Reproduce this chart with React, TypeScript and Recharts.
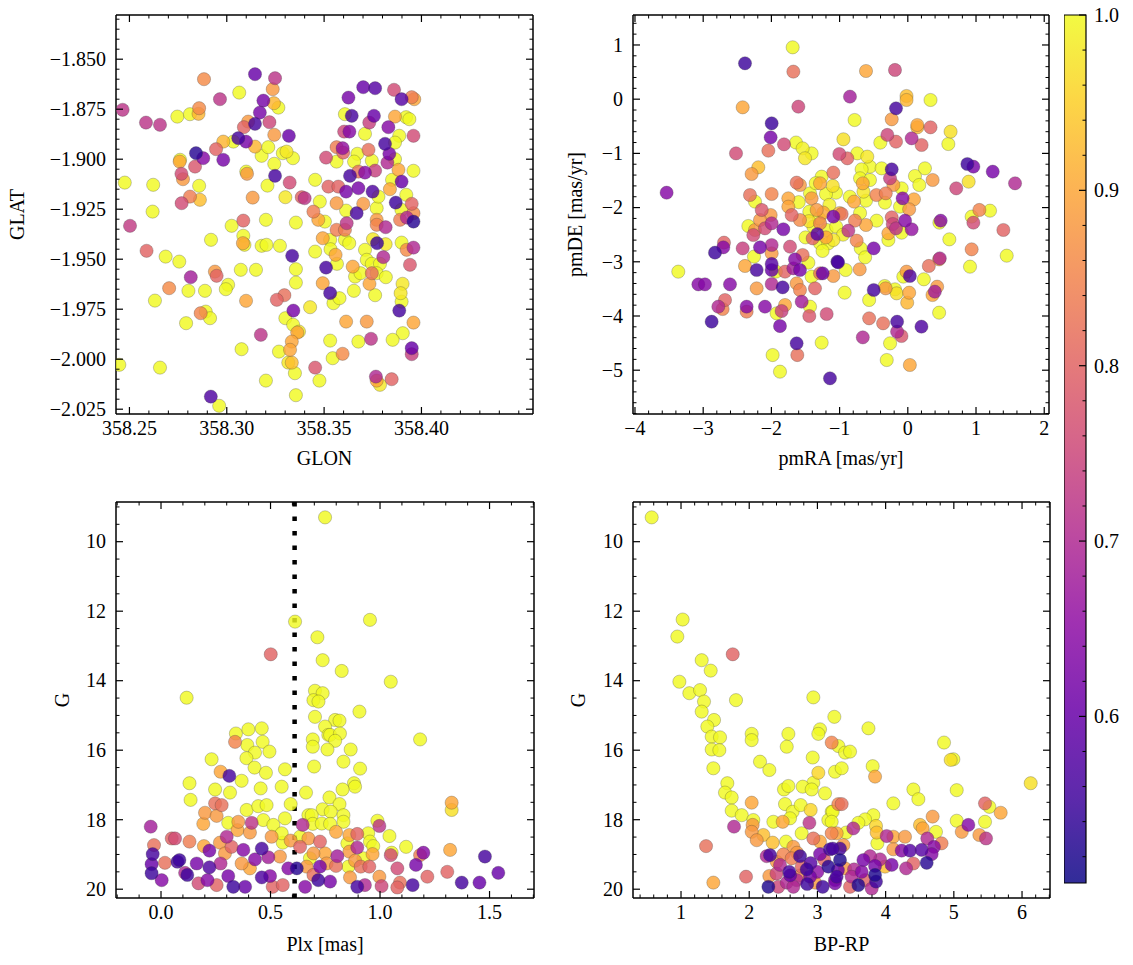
import React from 'react';
import { ReferenceArea, ReferenceLine, Scatter, ScatterChart, XAxis, YAxis } from 'recharts';

// [GLON, GLAT, membership probability]
const skyPositions: [number, number, number][] = [
  [358.2465, -1.8753, 0.72], [358.2585, -1.8817, 0.72], [358.2657, -1.8828, 0.72], [358.2746, -1.8787, 1.0],
  [358.2811, -1.8775, 1.0], [358.2855, -1.8773, 0.92], [358.2858, -1.8745, 0.86], [358.2883, -1.86, 0.86],
  [358.2965, -1.87, 0.72], [358.3064, -1.8667, 1.0], [358.3145, -1.8575, 0.6], [358.3248, -1.8595, 0.72],
  [358.3236, -1.865, 0.88], [358.3188, -1.8707, 0.62], [358.3242, -1.872, 0.92], [358.3265, -1.8742, 1.0],
  [358.317, -1.8767, 0.62], [358.3219, -1.8815, 0.75], [358.3145, -1.8823, 0.56], [358.311, -1.8812, 0.88],
  [358.3088, -1.884, 0.8], [358.3244, -1.8878, 0.88], [358.3319, -1.8883, 0.6], [358.3059, -1.8895, 0.56],
  [358.3099, -1.8912, 0.62], [358.3034, -1.8912, 1.0], [358.2982, -1.8912, 0.92], [358.2945, -1.895, 0.8],
  [358.2982, -1.9003, 0.62], [358.2842, -1.897, 0.53], [358.2879, -1.8995, 0.64], [358.276, -1.9003, 1.0],
  [358.2758, -1.9012, 0.9], [358.2837, -1.9037, 0.78], [358.2767, -1.9073, 0.76], [358.2775, -1.91, 0.88],
  [358.2858, -1.9133, 1.0], [358.2811, -1.9187, 0.84], [358.2768, -1.922, 0.76], [358.2862, -1.9203, 0.93],
  [358.3145, -1.8937, 0.92], [358.3179, -1.8983, 1.0], [358.3213, -1.894, 1.0], [358.3244, -1.9023, 1.0],
  [358.3248, -1.9083, 0.56], [358.31, -1.9062, 1.0], [358.3104, -1.9073, 0.88], [358.3209, -1.9132, 1.0],
  [358.3288, -1.897, 1.0], [358.3307, -1.8962, 0.98], [358.334, -1.8995, 1.0], [358.3323, -1.9117, 0.76],
  [358.3301, -1.919, 0.98], [358.3133, -1.9192, 0.88], [358.3385, -1.919, 0.8], [358.34, -1.9195, 0.72],
  [358.3445, -1.9262, 0.84], [358.3454, -1.9103, 1.0], [358.2476, -1.9117, 1.0], [358.2622, -1.9128, 1.0],
  [358.2619, -1.9262, 1.0], [358.2503, -1.9333, 0.73], [358.3085, -1.9307, 0.8], [358.3025, -1.9333, 1.0],
  [358.3201, -1.9303, 1.0], [358.3355, -1.9317, 1.0], [358.2919, -1.9403, 1.0], [358.3085, -1.9383, 1.0],
  [358.3083, -1.942, 0.9], [358.3091, -1.9428, 0.99], [358.3179, -1.9433, 1.0], [358.3204, -1.9428, 1.0],
  [358.3273, -1.9433, 1.0], [358.3454, -1.9462, 1.0], [358.3336, -1.9483, 0.56], [358.2588, -1.9458, 0.8],
  [358.2686, -1.9487, 1.0], [358.2756, -1.9512, 1.0], [358.2939, -1.9562, 0.88], [358.2948, -1.9583, 0.8],
  [358.2815, -1.959, 0.68], [358.3072, -1.9553, 1.0], [358.315, -1.9553, 1.0], [358.3355, -1.955, 1.0],
  [358.3355, -1.9617, 1.0], [358.3007, -1.9628, 1.0], [358.2995, -1.965, 1.0], [358.2888, -1.9658, 1.0],
  [358.2803, -1.9658, 1.0], [358.2704, -1.9645, 0.86], [358.2631, -1.9707, 1.0], [358.3099, -1.9708, 0.9],
  [358.3257, -1.9703, 0.8], [358.3296, -1.968, 0.82], [358.3342, -1.9757, 0.62], [358.3428, -1.974, 0.98],
  [358.2892, -1.9762, 1.0], [358.2866, -1.977, 0.85], [358.2914, -1.9795, 1.0], [358.2791, -1.982, 1.0],
  [358.3301, -1.9795, 1.0], [358.3341, -1.9828, 1.0], [358.3371, -1.9862, 0.98], [358.3362, -1.9867, 0.9],
  [358.3334, -1.9912, 0.9], [358.3325, -1.9953, 0.9], [358.3175, -1.9878, 0.72], [358.3076, -1.995, 1.0],
  [358.3268, -1.9962, 1.0], [358.3316, -2.0017, 0.98], [358.3334, -2.0017, 0.93], [358.335, -2.007, 1.0],
  [358.3201, -2.0107, 1.0], [358.3454, -2.0042, 0.78], [358.3476, -2.0107, 1.0], [358.2448, -2.0028, 1.0],
  [358.2657, -2.0042, 1.0], [358.3355, -2.018, 1.0], [358.2918, -2.0187, 0.57], [358.2961, -2.0233, 1.0],
  [358.3701, -1.864, 0.6], [358.3762, -1.8645, 0.58], [358.3625, -1.8692, 0.62], [358.3859, -1.8653, 0.76],
  [358.3898, -1.87, 0.58], [358.395, -1.869, 0.84], [358.3963, -1.87, 0.9], [358.3607, -1.8775, 1.0],
  [358.3642, -1.8783, 0.56], [358.3756, -1.8783, 0.6], [358.3732, -1.8817, 0.74], [358.3864, -1.8787, 0.9],
  [358.3921, -1.879, 1.0], [358.3938, -1.88, 1.0], [358.383, -1.884, 0.64], [358.3886, -1.8883, 1.0],
  [358.3959, -1.8883, 0.76], [358.3603, -1.8862, 0.75], [358.363, -1.8862, 0.64], [358.371, -1.8873, 1.0],
  [358.3864, -1.8917, 1.0], [358.3813, -1.8923, 0.56], [358.3564, -1.894, 0.84], [358.3595, -1.8945, 0.66],
  [358.3598, -1.8967, 0.8], [358.3728, -1.8953, 0.82], [358.3835, -1.8973, 0.62], [358.3864, -1.9, 1.0],
  [358.3825, -1.9017, 0.7], [358.3671, -1.8973, 1.0], [358.3654, -1.9012, 1.0], [358.3745, -1.9007, 1.0],
  [358.3564, -1.9012, 1.0], [358.351, -1.8992, 0.76], [358.3882, -1.9053, 0.9], [358.3959, -1.9058, 1.0],
  [358.3898, -1.9112, 0.6], [358.3849, -1.9103, 1.0], [358.3838, -1.915, 0.9], [358.3633, -1.9083, 0.56],
  [358.3676, -1.9062, 0.82], [358.371, -1.9067, 0.64], [358.3762, -1.9057, 0.74], [358.3613, -1.9162, 0.62],
  [358.3676, -1.9145, 0.62], [358.3749, -1.9162, 0.57], [358.3522, -1.9137, 0.8], [358.3573, -1.9137, 0.8],
  [358.3478, -1.9212, 1.0], [358.3564, -1.922, 0.88], [358.3613, -1.9257, 1.0], [358.3667, -1.927, 0.56],
  [358.3701, -1.9223, 0.88], [358.377, -1.9245, 1.0], [358.3779, -1.9187, 1.0], [358.3868, -1.9217, 0.55],
  [358.3922, -1.9178, 1.0], [358.3897, -1.9253, 1.0], [358.389, -1.9303, 0.84], [358.395, -1.9223, 0.8],
  [358.3959, -1.927, 0.86], [358.3925, -1.9292, 0.7], [358.3959, -1.9312, 0.53], [358.347, -1.9303, 0.9],
  [358.3504, -1.9312, 1.0], [358.3616, -1.932, 0.72], [358.3564, -1.9353, 0.84], [358.3607, -1.9353, 0.84],
  [358.377, -1.9303, 0.88], [358.377, -1.9328, 0.85], [358.3816, -1.934, 0.7], [358.3493, -1.9395, 0.9],
  [358.3531, -1.9403, 1.0], [358.3607, -1.9403, 1.0], [358.3629, -1.942, 1.0], [358.3751, -1.94, 0.98],
  [358.3772, -1.942, 0.55], [358.3816, -1.9425, 0.98], [358.3533, -1.945, 1.0], [358.3559, -1.9478, 0.9],
  [358.3566, -1.9523, 1.0], [358.351, -1.9542, 0.56], [358.371, -1.9453, 1.0], [358.3719, -1.9503, 1.0],
  [358.3745, -1.9523, 1.0], [358.3804, -1.949, 0.7], [358.3787, -1.9523, 1.0], [358.3898, -1.9417, 1.0],
  [358.3924, -1.9453, 0.86], [358.3959, -1.9442, 0.7], [358.3941, -1.9528, 0.78], [358.3647, -1.9537, 0.9],
  [358.3659, -1.9587, 1.0], [358.3687, -1.957, 1.0], [358.3745, -1.957, 0.82], [358.377, -1.957, 1.0],
  [358.3733, -1.9623, 0.9], [358.3817, -1.959, 1.0], [358.3493, -1.962, 0.9], [358.3531, -1.967, 0.56],
  [358.3548, -1.972, 1.0], [358.3579, -1.9695, 1.0], [358.3653, -1.9658, 1.0], [358.3762, -1.968, 1.0],
  [358.3903, -1.9623, 0.98], [358.3893, -1.967, 0.98], [358.3898, -1.9712, 1.0], [358.3886, -1.9757, 0.56],
  [358.3613, -1.9812, 0.9], [358.3719, -1.9812, 0.88], [358.3959, -1.9817, 0.9], [358.3904, -1.987, 1.0],
  [358.3852, -1.9903, 1.0], [358.3741, -1.9898, 0.72], [358.3676, -1.9912, 1.0], [358.3531, -1.9907, 1.0],
  [358.3595, -1.9973, 0.86], [358.3544, -1.9995, 1.0], [358.395, -1.9945, 0.6], [358.395, -1.9975, 0.74],
  [358.3766, -2.0087, 0.7], [358.3787, -2.0128, 0.98], [358.377, -2.0107, 0.9], [358.3847, -2.01, 0.8],
];

// [pmRA, pmDE, membership probability]
const properMotions: [number, number, number][] = [
  [-1.688, 0.957, 1.0], [-2.387, 0.662, 0.55], [-1.678, 0.508, 0.82], [-1.605, -0.138, 0.75],
  [-2.421, -0.15, 0.9], [-1.996, -0.445, 0.55], [-2.011, -0.704, 0.62], [-1.815, -0.833, 0.76],
  [-2.519, -1.0, 0.76], [-2.045, -0.95, 0.82], [-1.639, -0.8, 1.0], [-1.542, -0.907, 0.99],
  [-1.41, -1.0, 1.0], [-1.507, -1.09, 0.98], [-2.192, -1.257, 0.93], [-2.29, -1.38, 0.88],
  [-3.536, -1.725, 0.64], [-2.314, -1.768, 0.82], [-1.996, -1.749, 0.85], [-1.752, -1.829, 0.9],
  [-1.63, -1.54, 0.82], [-1.581, -1.583, 0.88], [-1.263, -1.43, 1.0], [-1.287, -1.552, 0.9],
  [-1.434, -1.737, 1.0], [-1.41, -1.829, 0.88], [-1.092, -1.355, 0.82], [-1.053, -1.725, 1.0],
  [-2.24, -1.89, 1.0], [-2.142, -2.044, 0.78], [-2.011, -2.137, 0.88], [-1.752, -1.983, 0.9],
  [-1.703, -2.137, 0.8], [-1.581, -2.229, 0.86], [-1.444, -2.075, 1.0], [-1.336, -2.044, 0.88],
  [-1.239, -2.093, 0.9], [-1.092, -2.167, 0.62], [-1.287, -2.29, 0.85], [-1.385, -2.352, 1.0],
  [-1.19, -2.413, 1.0], [-1.327, -2.487, 0.58], [-1.395, -2.567, 0.8], [-1.287, -2.66, 1.0],
  [-1.166, -2.66, 1.0], [-1.092, -2.598, 0.98], [-2.338, -2.34, 1.0], [-2.24, -2.413, 0.88],
  [-2.094, -2.383, 0.76], [-1.996, -2.29, 0.7], [-2.167, -2.229, 0.88], [-2.265, -2.506, 0.76],
  [-1.825, -2.4, 0.62], [-2.695, -2.647, 0.8], [-2.705, -2.733, 0.64], [-2.827, -2.831, 0.55],
  [-2.421, -2.752, 0.74], [-2.167, -2.733, 0.62], [-1.996, -2.69, 0.7], [-1.996, -2.844, 0.88],
  [-1.727, -2.721, 0.76], [-1.542, -2.875, 0.82], [-2.255, -2.905, 1.0], [-2.387, -3.077, 0.9],
  [-2.216, -3.151, 0.56], [-1.996, -3.04, 0.58], [-1.996, -3.151, 0.6], [-1.933, -3.182, 1.0],
  [-1.8, -3.182, 0.8], [-1.654, -2.955, 0.64], [-1.678, -3.12, 0.68], [-1.581, -3.151, 0.62],
  [-1.458, -3.016, 1.0], [-1.41, -3.274, 1.0], [-1.287, -3.213, 0.82], [-1.248, -3.213, 0.6],
  [-1.092, -3.262, 0.88], [-1.033, -2.998, 0.56], [-3.365, -3.182, 1.0], [-3.071, -3.416, 0.64],
  [-2.974, -3.416, 0.64], [-2.607, -3.416, 0.64], [-2.216, -3.49, 0.88], [-1.996, -3.41, 0.7],
  [-1.835, -3.471, 0.56], [-1.63, -3.398, 0.88], [-1.581, -3.52, 0.85], [-1.556, -3.736, 0.68],
  [-1.361, -3.49, 0.8], [-2.68, -3.705, 0.8], [-2.778, -3.828, 0.7], [-2.715, -3.871, 0.85],
  [-2.363, -3.828, 0.64], [-2.363, -3.92, 0.84], [-2.094, -3.828, 0.64], [-1.923, -3.951, 1.0],
  [-1.8, -3.797, 0.9], [-1.85, -3.908, 0.74], [-1.434, -3.828, 1.0], [-1.444, -4.0, 0.78],
  [-1.19, -3.963, 0.76], [-2.876, -4.105, 0.55], [-1.874, -4.185, 0.62], [-1.63, -4.504, 0.56],
  [-1.62, -4.72, 0.82], [-1.263, -4.492, 1.0], [-1.982, -4.72, 1.0], [-1.874, -5.027, 1.0],
  [-1.141, -5.15, 0.56],
  [-0.613, 0.52, 0.9], [-0.188, 0.539, 0.75], [-0.848, 0.047, 0.68], [-0.019, 0.059, 0.93],
  [-0.019, -0.015, 0.92], [0.333, -0.015, 1.0], [-0.173, -0.169, 0.56], [-0.236, -0.371, 0.88],
  [-0.78, -0.384, 1.0], [0.139, -0.476, 0.9], [0.139, -0.519, 0.92], [0.333, -0.519, 0.8],
  [0.627, -0.599, 0.97], [0.594, -0.827, 1.0], [-0.944, -0.74, 0.97], [-0.3, -0.66, 0.75],
  [-0.173, -0.784, 0.8], [0.056, -0.722, 0.7], [0.202, -0.845, 0.8], [-0.403, -0.802, 1.0],
  [-1.004, -1.011, 0.76], [-0.887, -1.091, 0.8], [-0.741, -0.999, 1.0], [-0.594, -1.06, 0.98],
  [-0.555, -1.245, 1.0], [-0.677, -1.294, 1.0], [-0.384, -1.276, 1.0], [-0.236, -1.294, 0.56],
  [-0.261, -1.46, 0.74], [-0.212, -1.583, 0.88], [-0.09, -1.645, 1.0], [0.105, -1.417, 1.0],
  [0.251, -1.276, 1.0], [0.168, -1.583, 1.0], [0.364, -1.491, 0.88], [-0.7, -1.46, 1.0],
  [-0.66, -1.552, 0.9], [-0.555, -1.491, 1.0], [-0.65, -1.706, 0.98], [-0.46, -1.768, 0.85],
  [-0.323, -1.737, 0.84], [-0.788, -1.89, 0.9], [-0.613, -1.872, 1.0], [-0.335, -1.909, 1.0],
  [-0.076, -1.829, 0.64], [0.09, -1.847, 0.9], [0.02, -2.032, 0.88], [-0.114, -1.983, 1.0],
  [-0.97, -2.118, 0.82], [-0.775, -2.241, 0.84], [-0.872, -2.426, 0.72], [-0.75, -2.61, 0.85],
  [-0.613, -2.321, 0.9], [-0.457, -2.241, 1.0], [-0.69, -2.752, 1.0], [-0.626, -2.918, 1.0],
  [-0.236, -2.18, 0.8], [-0.221, -2.303, 0.75], [-0.04, -2.241, 0.64], [0.056, -2.4, 0.66],
  [-0.173, -2.383, 0.72], [-0.09, -2.463, 1.0], [-0.285, -2.475, 0.9], [-0.285, -2.598, 1.0],
  [0.482, -2.241, 0.64], [0.463, -2.278, 1.0], [0.609, -2.586, 1.0], [0.936, -2.167, 1.0],
  [1.049, -2.044, 0.85], [1.205, -2.057, 1.0], [0.961, -2.278, 0.76], [1.401, -2.413, 0.8],
  [1.45, -2.887, 1.0], [0.936, -2.77, 0.85], [0.912, -3.09, 1.0], [0.873, -1.196, 0.55],
  [0.961, -1.245, 0.62], [1.245, -1.337, 0.62], [1.572, -1.552, 0.7], [0.71, -1.645, 0.75],
  [0.892, -1.522, 0.97], [-0.5, -2.752, 0.62], [-1.023, -3.01, 0.56], [-0.911, -3.151, 1.0],
  [-0.705, -3.139, 0.88], [-0.926, -3.57, 1.0], [-0.567, -3.705, 1.0], [-0.5, -3.52, 0.56],
  [-0.339, -3.447, 1.0], [-0.325, -3.49, 0.88], [-0.188, -3.508, 1.0], [-0.164, -3.582, 0.97],
  [-0.019, -3.182, 0.88], [-0.066, -3.274, 1.0], [0.03, -3.262, 0.57], [0.02, -3.57, 0.9],
  [-0.009, -3.754, 0.92], [0.235, -3.323, 1.0], [0.308, -3.077, 0.82], [0.459, -2.955, 0.88],
  [0.469, -2.936, 0.7], [0.43, -3.459, 0.88], [0.396, -3.551, 0.68], [0.362, -3.613, 0.9],
  [0.459, -3.939, 1.0], [-0.567, -4.043, 0.82], [-0.362, -4.135, 0.82], [-0.157, -4.105, 0.56],
  [-0.157, -4.289, 0.7], [-0.093, -4.369, 0.78], [0.2, -4.197, 0.57], [-0.66, -4.394, 0.7],
  [-0.26, -4.504, 1.0], [-0.309, -4.812, 1.0], [0.03, -4.904, 0.9],
  [-1.35, -1.55, 1.0], [-1.2, -1.75, 1.0], [-1.15, -1.95, 0.99], [-1.3, -2.2, 1.0],
  [-1.45, -2.25, 0.97], [-1.05, -2.35, 1.0], [-0.95, -2.5, 0.99], [-1.2, -2.55, 0.9],
  [-1.5, -2.55, 1.0], [-1.0, -2.1, 0.92], [-1.6, -1.9, 1.0], [-0.85, -1.8, 1.0],
  [-1.25, -2.8, 1.0], [-1.1, -1.6, 0.97], [-0.7, -2.1, 1.0],
];

// [Plx, G, membership probability]
const parallaxMag: [number, number, number][] = [
  [0.612, 12.3, 1.0], [0.501, 13.24, 0.8], [0.117, 14.49, 1.0], [0.342, 15.52, 1.0],
  [0.399, 15.4, 1.0], [0.46, 15.37, 1.0], [0.338, 15.76, 0.85], [0.394, 15.85, 1.0],
  [0.464, 15.76, 1.0], [0.429, 16.07, 1.0], [0.495, 16.04, 1.0], [0.231, 16.26, 1.0],
  [0.39, 16.23, 1.0], [0.427, 16.5, 1.0], [0.479, 16.65, 1.0], [0.566, 16.55, 1.0],
  [0.272, 16.62, 0.9], [0.312, 16.74, 0.56], [0.368, 16.88, 1.0], [0.13, 16.95, 1.0],
  [0.247, 17.13, 1.0], [0.315, 17.22, 1.0], [0.455, 17.1, 1.0], [0.551, 17.05, 1.0],
  [0.662, 17.22, 1.0], [0.135, 17.43, 1.0], [0.247, 17.53, 0.82], [0.277, 17.58, 0.82],
  [0.391, 17.72, 1.0], [0.444, 17.61, 1.0], [0.482, 17.58, 1.0], [0.592, 17.55, 1.0],
  [0.201, 17.8, 0.88], [0.254, 17.89, 0.88], [0.193, 18.12, 0.9], [0.307, 18.09, 1.0],
  [0.353, 18.06, 0.88], [0.414, 18.09, 0.72], [0.467, 18.01, 1.0], [0.513, 18.15, 1.0],
  [0.566, 17.96, 1.0], [0.647, 18.15, 0.7], [0.673, 17.87, 1.0], [-0.047, 18.2, 0.68],
  [0.049, 18.54, 0.8], [0.064, 18.54, 0.76], [-0.032, 18.73, 0.82], [0.13, 18.63, 0.84],
  [0.196, 18.76, 0.9], [0.3, 18.49, 0.7], [0.269, 18.66, 0.88], [0.349, 18.3, 0.9],
  [0.406, 18.37, 0.88], [0.322, 18.78, 0.8], [0.376, 18.87, 0.64], [0.46, 18.83, 0.56],
  [0.505, 18.49, 0.88], [0.556, 18.66, 1.0], [0.49, 19.08, 0.68], [0.543, 19.06, 0.88],
  [0.592, 18.6, 0.88], [0.635, 18.78, 0.8], [0.673, 18.54, 0.88], [0.68, 19.11, 1.0],
  [-0.038, 18.99, 0.56], [-0.043, 19.28, 0.6], [-0.043, 19.54, 0.55], [0.003, 19.74, 0.64],
  [0.018, 19.24, 0.82], [0.084, 19.16, 0.55], [0.075, 19.21, 0.56], [0.11, 19.53, 0.7],
  [0.12, 19.59, 0.55], [0.163, 19.26, 0.62], [0.171, 19.83, 0.76], [0.212, 19.74, 0.64],
  [0.221, 18.89, 0.62], [0.221, 19.37, 0.57], [0.254, 19.88, 0.8], [0.272, 19.26, 0.7],
  [0.307, 19.62, 0.62], [0.33, 19.93, 0.55], [0.384, 19.93, 0.6], [0.429, 19.14, 0.64],
  [0.46, 19.66, 0.57], [0.498, 19.62, 0.64], [0.51, 19.93, 0.8], [0.556, 19.88, 0.8],
  [0.581, 19.4, 0.64], [0.62, 19.4, 0.53], [0.665, 19.35, 0.88], [0.658, 19.93, 0.64],
  [0.368, 19.26, 0.88], [0.406, 19.4, 0.9], [0.292, 18.97, 0.88], [0.551, 18.39, 1.0],
  [0.635, 18.49, 1.0],
  [0.749, 9.3, 1.0], [0.954, 12.25, 1.0], [0.714, 12.75, 1.0], [0.738, 13.41, 1.0],
  [0.825, 13.72, 1.0], [1.049, 14.03, 1.0], [0.703, 14.29, 1.0], [0.738, 14.36, 1.0],
  [0.696, 14.56, 1.0], [0.719, 14.6, 1.0], [0.906, 14.89, 1.0], [0.703, 15.04, 1.0],
  [0.795, 15.13, 1.0], [0.815, 15.15, 1.0], [0.749, 15.32, 1.0], [0.764, 15.56, 1.0],
  [0.772, 15.56, 1.0], [0.817, 15.52, 1.0], [0.795, 15.73, 1.0], [0.693, 15.69, 1.0],
  [0.693, 15.9, 1.0], [0.76, 15.98, 1.0], [0.866, 15.98, 1.0], [1.183, 15.69, 1.0],
  [0.833, 16.33, 1.0], [0.699, 16.47, 1.0], [0.909, 16.53, 1.0], [0.881, 16.95, 1.0],
  [0.886, 17.05, 1.0], [0.829, 17.13, 1.0], [0.769, 17.36, 1.0], [0.815, 17.55, 1.0],
  [0.738, 17.7, 1.0], [0.775, 17.77, 1.0], [0.833, 17.87, 1.0], [0.833, 18.06, 1.0],
  [0.688, 17.87, 1.0], [0.693, 18.12, 1.0], [0.734, 18.11, 1.0], [0.772, 18.12, 1.0],
  [0.799, 18.35, 0.9], [1.327, 17.51, 0.9], [1.327, 17.72, 0.97], [0.988, 18.03, 1.0],
  [0.997, 18.18, 0.72], [1.043, 18.47, 1.0], [1.119, 18.78, 1.0], [1.053, 18.95, 1.0],
  [1.049, 19.02, 0.76], [0.86, 18.44, 0.9], [0.896, 18.41, 0.8], [0.946, 18.39, 1.0],
  [0.954, 18.63, 1.0], [0.969, 18.76, 1.0], [0.966, 18.99, 0.9], [0.896, 18.8, 0.7],
  [0.851, 18.68, 1.0], [0.86, 18.92, 0.88], [0.805, 19.05, 0.68], [0.799, 19.33, 0.82],
  [0.886, 19.18, 0.88], [0.924, 19.11, 1.0], [0.856, 19.35, 1.0], [0.912, 19.35, 0.82],
  [0.951, 19.35, 0.8], [0.863, 19.66, 0.88], [0.896, 19.93, 0.56], [0.931, 19.88, 0.7],
  [0.997, 19.64, 0.88], [1.007, 19.91, 0.75], [1.079, 19.95, 0.8], [1.091, 19.81, 0.82],
  [1.079, 19.4, 0.76], [1.149, 19.88, 0.56], [1.164, 19.3, 0.62], [1.183, 19.02, 0.84],
  [1.198, 18.95, 0.64], [1.216, 19.64, 0.8], [1.32, 18.87, 0.9], [1.307, 19.5, 0.8],
  [1.373, 19.81, 0.56], [1.454, 19.81, 0.6], [1.479, 19.06, 0.56], [1.54, 19.53, 0.6],
  [0.718, 19.74, 0.55], [0.772, 19.78, 0.62], [0.726, 19.35, 0.62], [0.756, 19.26, 0.88],
  [0.726, 18.63, 0.8], [0.749, 18.97, 0.9], [0.696, 18.97, 0.88], [0.696, 19.59, 0.82],
];

// [BP-RP, G, membership probability]
const colourMag: [number, number, number][] = [
  [0.57, 9.3, 1.0], [1.024, 12.24, 1.0], [0.946, 12.73, 1.0], [1.303, 13.41, 1.0],
  [1.435, 13.71, 1.0], [0.976, 14.03, 1.0], [1.122, 14.36, 1.0], [1.279, 14.27, 1.0],
  [1.337, 14.6, 1.0], [1.303, 14.89, 1.0], [1.484, 15.13, 1.0], [1.386, 15.32, 1.0],
  [1.45, 15.61, 1.0], [1.572, 15.63, 1.0], [1.45, 15.98, 1.0], [1.562, 16.0, 1.0],
  [1.474, 16.52, 1.0], [1.758, 13.24, 0.8], [1.806, 14.56, 1.0], [2.94, 14.48, 1.0],
  [2.036, 15.53, 1.0], [2.036, 15.71, 1.0], [2.574, 15.53, 1.0], [2.55, 15.9, 1.0],
  [3.038, 15.4, 1.0], [3.013, 15.53, 1.0], [3.209, 15.78, 0.85], [3.248, 15.04, 1.0],
  [2.158, 16.33, 1.0], [2.295, 16.57, 1.0], [2.931, 16.21, 1.0], [3.013, 16.65, 0.96],
  [2.94, 16.94, 1.0], [2.784, 17.05, 1.0], [2.916, 17.13, 1.0], [3.111, 17.24, 1.0],
  [3.258, 16.62, 1.0], [1.679, 16.95, 1.0], [1.645, 17.22, 1.0], [1.743, 17.36, 1.0],
  [1.743, 17.74, 1.0], [1.89, 17.87, 1.0], [2.51, 17.13, 1.0], [2.574, 17.03, 1.0],
  [2.036, 17.51, 0.9], [2.525, 17.55, 1.0], [2.637, 17.77, 1.0], [2.755, 17.58, 1.0],
  [2.901, 17.72, 0.96], [3.209, 17.77, 1.0], [3.307, 17.55, 0.85], [3.16, 18.01, 1.0],
  [2.354, 18.06, 1.0], [2.491, 18.06, 0.9], [2.598, 17.96, 1.0], [2.882, 18.09, 0.72],
  [1.777, 18.2, 0.7], [2.05, 18.15, 0.88], [2.06, 18.01, 1.0], [2.036, 18.35, 0.88],
  [2.11, 18.59, 0.88], [2.207, 18.44, 0.93], [2.344, 18.66, 0.93], [2.54, 18.63, 1.0],
  [2.647, 18.78, 0.88], [2.769, 18.39, 1.0], [2.94, 18.54, 0.82], [3.038, 18.63, 0.9],
  [3.209, 18.39, 0.85], [1.367, 18.76, 0.82], [1.953, 19.64, 0.8], [1.474, 19.81, 0.9],
  [2.256, 19.05, 0.7], [2.305, 19.02, 0.56], [2.452, 19.3, 0.7], [2.588, 19.5, 0.56],
  [2.295, 19.62, 0.88], [2.281, 19.93, 0.52], [2.427, 19.93, 0.75], [2.55, 19.81, 0.7],
  [2.745, 19.05, 0.55], [2.769, 19.35, 0.8], [2.843, 19.43, 0.55], [2.892, 19.64, 0.62],
  [3.038, 18.99, 0.62], [3.077, 19.93, 0.55], [3.184, 18.85, 0.56], [3.16, 19.35, 0.53],
  [3.258, 19.74, 0.62], [2.965, 19.81, 0.88], [2.696, 19.74, 0.7], [2.623, 19.11, 0.84],
  [2.403, 19.21, 0.88], [2.647, 19.93, 0.7], [3.282, 18.39, 0.9],
  [3.748, 15.37, 1.0], [4.856, 15.78, 1.0], [4.954, 16.28, 0.97], [4.993, 16.26, 1.0],
  [3.307, 15.88, 1.0], [3.405, 16.07, 1.0], [3.478, 16.04, 1.0], [3.356, 16.52, 1.0],
  [3.81, 16.46, 1.0], [3.845, 16.76, 0.9], [4.407, 17.13, 1.0], [4.48, 17.41, 1.0],
  [5.042, 17.15, 1.0], [6.127, 16.95, 0.97], [4.113, 17.53, 1.0], [3.356, 17.55, 0.82],
  [3.224, 17.77, 1.0], [3.209, 18.06, 1.0], [3.82, 17.87, 1.0], [3.698, 17.99, 1.0],
  [3.6, 18.09, 1.0], [3.859, 18.18, 0.96], [3.869, 18.37, 0.93], [3.526, 18.25, 0.7],
  [3.42, 18.37, 1.0], [3.879, 18.68, 1.0], [4.015, 18.47, 0.7], [4.113, 18.49, 0.9],
  [4.284, 18.49, 0.88], [4.504, 18.15, 0.93], [4.543, 18.25, 0.9], [4.689, 17.91, 0.88],
  [4.738, 18.35, 1.0], [4.611, 18.54, 0.7], [4.709, 18.78, 0.64], [4.82, 18.68, 0.84],
  [5.042, 18.03, 1.0], [5.116, 18.35, 0.88], [5.213, 18.15, 0.64], [5.374, 18.44, 0.88],
  [5.457, 18.06, 1.0], [5.457, 17.53, 0.8], [5.521, 17.63, 1.0], [5.687, 17.8, 0.9],
  [5.472, 18.54, 0.72], [4.113, 18.85, 0.88], [4.235, 18.89, 0.64], [4.357, 18.89, 0.58],
  [4.528, 18.87, 0.58], [4.602, 19.24, 0.53], [4.675, 18.99, 0.64], [4.406, 19.26, 0.8],
  [4.3, 19.4, 0.7], [4.089, 19.3, 0.62], [3.918, 19.14, 0.7], [3.991, 19.35, 0.93],
  [3.845, 19.33, 0.62], [3.845, 19.59, 0.52], [3.859, 19.78, 0.55], [3.771, 19.05, 0.7],
  [3.796, 19.98, 0.7], [3.674, 19.16, 0.62], [3.6, 19.88, 0.52], [3.649, 19.5, 0.64],
  [3.537, 19.43, 0.7], [3.478, 19.93, 0.8], [3.405, 19.4, 0.88], [3.331, 19.16, 0.52],
  [3.331, 18.83, 0.56], [3.224, 18.83, 0.56], [3.381, 18.73, 0.88], [3.258, 19.83, 0.62],
  [3.282, 19.64, 0.56], [3.502, 19.64, 0.7], [3.698, 19.74, 0.8],
  [2.6, 19.6, 0.6], [2.85, 19.85, 0.55], [3.0, 19.5, 0.65], [2.7, 18.95, 0.88],
  [3.1, 19.15, 0.8], [2.5, 19.0, 0.85], [2.9, 19.25, 0.58], [3.3, 19.45, 0.6],
  [2.4, 19.55, 0.75], [2.75, 19.6, 0.85],
];

const PLX_CUT = 0.61;

const glonMajor = [358.25, 358.3, 358.35, 358.4];
const glatMajor = [-2.025, -2.0, -1.975, -1.95, -1.925, -1.9, -1.875, -1.85];
const pmraMajor = [-4, -3, -2, -1, 0, 1, 2];
const pmdeMajor = [-5, -4, -3, -2, -1, 0, 1];
const plxMajor = [0, 0.5, 1, 1.5];
const gMajor = [10, 12, 14, 16, 18, 20];
const bprpMajor = [1, 2, 3, 4, 5, 6];
const cbMajor = [0.6, 0.7, 0.8, 0.9, 1.0];

const CB_MIN = 0.505;
const CB_MAX = 1.0;
const PLASMA = ['#0d0887', '#41049d', '#6a00a8', '#8f0da4', '#b12a90', '#cc4778', '#e16462', '#f2844b', '#fca636', '#fcce25', '#f0f921'];

const FONT = "'Liberation Serif', 'DejaVu Serif', serif";
const FS = 20;
const XH = 60;
const MAJOR = 7;
const MINOR = 3.5;
const TINY = 0.001; // a zero tickSize is swapped for the default, so use a negligible one
const AXIS_LINE = { stroke: '#000', strokeWidth: 1.5 };

function steps(from: number, to: number, step: number) {
  const out: number[] = [];
  const n = Math.round((to - from) / step);
  for (let i = 0; i <= n; i++) out.push(Number((from + i * step).toFixed(6)));
  return out;
}

function hexToRgb(h: string) {
  return [parseInt(h.slice(1, 3), 16), parseInt(h.slice(3, 5), 16), parseInt(h.slice(5, 7), 16)];
}

function plasma(p: number) {
  const t = Math.min(1, Math.max(0, (p - CB_MIN) / (CB_MAX - CB_MIN))) * (PLASMA.length - 1);
  const i = Math.min(PLASMA.length - 2, Math.floor(t));
  const f = t - i;
  const a = hexToRgb(PLASMA[i]);
  const b = hexToRgb(PLASMA[i + 1]);
  const c = a.map((v, k) => Math.round(v + (b[k] - v) * f));
  return `rgb(${c[0]},${c[1]},${c[2]})`;
}

const minus = (s: string) => s.replace('-', '\u2212');
const fixed = (d: number) => (v: number) => minus(v.toFixed(d));

type Side = 'bottom' | 'top' | 'left' | 'right';

function makeTick(side: Side, majors: number[], gap: number, fmt?: (v: number) => string) {
  return function TickMark(props: any) {
    const { x, y, payload } = props;
    const v = Number(payload.value);
    const isMajor = majors.some((m) => Math.abs(m - v) < 1e-6);
    const len = isMajor ? MAJOR : MINOR;
    const sw = isMajor ? 1.2 : 1;
    const showText = isMajor && !!fmt;
    const textProps = { fontSize: FS, fontFamily: FONT, fill: '#000' };
    let line: React.ReactNode = null;
    let text: React.ReactNode = null;
    if (side === 'bottom') {
      const ay = y - gap;
      line = <line x1={x} x2={x} y1={ay} y2={ay - len} stroke="#000" strokeWidth={sw} />;
      if (showText) text = <text x={x} y={y} dy="0.72em" textAnchor="middle" {...textProps}>{fmt!(v)}</text>;
    } else if (side === 'top') {
      const ay = y + gap;
      line = <line x1={x} x2={x} y1={ay} y2={ay + len} stroke="#000" strokeWidth={sw} />;
    } else if (side === 'left') {
      const ax = x + gap;
      line = <line x1={ax} x2={ax + len} y1={y} y2={y} stroke="#000" strokeWidth={sw} />;
      if (showText) text = <text x={x} y={y} dy="0.34em" textAnchor="end" {...textProps}>{fmt!(v)}</text>;
    } else {
      const ax = x - gap;
      line = <line x1={ax} x2={ax - len} y1={y} y2={y} stroke="#000" strokeWidth={sw} />;
      if (showText) text = <text x={x} y={y} dy="0.34em" textAnchor="start" {...textProps}>{fmt!(v)}</text>;
    }
    return (
      <g>
        {line}
        {text}
      </g>
    );
  };
}

function renderDot(props: any) {
  const { cx, cy, payload } = props;
  if (cx == null || cy == null) return <g />;
  return (
    <circle
      cx={cx}
      cy={cy}
      r={6.6}
      fill={plasma(payload.p)}
      fillOpacity={0.82}
      stroke="#3a3a3a"
      strokeOpacity={0.55}
      strokeWidth={0.5}
    />
  );
}

const noDot = () => <g />;

interface Box {
  left: number;
  top: number;
  w: number;
  h: number;
}

interface PanelProps {
  rows: [number, number, number][];
  box: Box;
  yw: number;
  xDomain: [number, number];
  yDomain: [number, number];
  reversed?: boolean;
  xMajor: number[];
  xMinor: number[];
  yMajor: number[];
  yMinor: number[];
  xFmt: (v: number) => string;
  yFmt: (v: number) => string;
  xLabel: string;
  yLabel: string;
  xLabelOffset: number;
  yLabelOffset: number;
  vline?: number;
}

function mergeTicks(a: number[], b: number[]) {
  const all = [...a, ...b.filter((v) => !a.some((m) => Math.abs(m - v) < 1e-6))];
  return all.sort((p, q) => p - q);
}

function Panel(props: PanelProps) {
  const { rows, box, yw, xDomain, yDomain, reversed, xMajor, xMinor, yMajor, yMinor } = props;
  const xTicks = mergeTicks(xMajor, xMinor);
  const yTicks = mergeTicks(yMajor, yMinor);
  const points = rows.map(([x, y, p]) => ({ x, y, p })).sort((a, b) => b.p - a.p);
  const labelText = { fill: '#000', fontSize: FS, fontFamily: FONT };

  return (
    <div style={{ position: 'absolute', left: box.left - yw, top: box.top - 5 }}>
      <ScatterChart width={yw + box.w + 5} height={5 + box.h + XH} margin={{ top: 4, right: 4, bottom: 0, left: 0 }}>
        <XAxis
          type="number"
          dataKey="x"
          domain={xDomain}
          allowDataOverflow
          ticks={xTicks}
          interval={0}
          height={XH}
          tickLine={false}
          tickSize={TINY}
          tickMargin={7}
          tick={makeTick('bottom', xMajor, 7, props.xFmt)}
          axisLine={AXIS_LINE}
          label={{ value: props.xLabel, position: 'insideBottom', offset: props.xLabelOffset, ...labelText }}
        />
        <XAxis
          xAxisId="top"
          orientation="top"
          type="number"
          dataKey="x"
          domain={xDomain}
          allowDataOverflow
          ticks={xTicks}
          interval={0}
          height={1}
          tickLine={false}
          tickSize={TINY}
          tickMargin={0}
          tick={makeTick('top', xMajor, 0)}
          axisLine={AXIS_LINE}
        />
        <YAxis
          type="number"
          dataKey="y"
          domain={yDomain}
          reversed={reversed}
          allowDataOverflow
          ticks={yTicks}
          interval={0}
          width={yw}
          tickLine={false}
          tickSize={TINY}
          tickMargin={10}
          tick={makeTick('left', yMajor, 10, props.yFmt)}
          axisLine={AXIS_LINE}
          label={{
            value: props.yLabel,
            angle: -90,
            position: 'insideLeft',
            offset: props.yLabelOffset,
            style: { textAnchor: 'middle' },
            ...labelText,
          }}
        />
        <YAxis
          yAxisId="right"
          orientation="right"
          type="number"
          dataKey="y"
          domain={yDomain}
          reversed={reversed}
          allowDataOverflow
          ticks={yTicks}
          interval={0}
          width={1}
          tickLine={false}
          tickSize={TINY}
          tickMargin={0}
          tick={makeTick('right', yMajor, 0)}
          axisLine={AXIS_LINE}
        />
        {props.vline !== undefined && (
          <ReferenceLine x={props.vline} stroke="#000" strokeWidth={4.5} strokeDasharray="4.5 10" />
        )}
        <Scatter xAxisId="top" yAxisId="right" data={points} isAnimationActive={false} shape={noDot} />
        <Scatter data={points} isAnimationActive={false} shape={renderDot} />
      </ScatterChart>
    </div>
  );
}

function ColorBar() {
  const ticks = mergeTicks(cbMajor, steps(0.52, 0.98, 0.02));
  return (
    <div style={{ position: 'absolute', left: 1064, top: 0 }}>
      <ScatterChart width={67} height={898} margin={{ top: 15, right: 0, bottom: 15, left: 0 }}>
        <defs>
          <linearGradient id="plasmaBar" x1="0" y1="1" x2="0" y2="0">
            {PLASMA.map((c, i) => (
              <stop key={c} offset={`${(i / (PLASMA.length - 1)) * 100}%`} stopColor={c} />
            ))}
          </linearGradient>
        </defs>
        <XAxis type="number" dataKey="x" domain={[0, 1]} allowDataOverflow hide />
        <YAxis
          type="number"
          dataKey="y"
          orientation="right"
          domain={[CB_MIN, CB_MAX]}
          allowDataOverflow
          ticks={ticks}
          interval={0}
          width={45}
          tickLine={false}
          tickSize={TINY}
          tickMargin={8}
          tick={makeTick('right', cbMajor, 8, fixed(1))}
          axisLine={false}
        />
        <ReferenceArea
          x1={0}
          x2={1}
          y1={CB_MIN}
          y2={CB_MAX}
          fill="url(#plasmaBar)"
          fillOpacity={0.85}
          stroke="#000"
          strokeWidth={1.2}
          ifOverflow="visible"
        />
        <Scatter data={[]} isAnimationActive={false} />
      </ScatterChart>
    </div>
  );
}

export default function App() {
  return (
    <div
      style={{
        position: 'absolute',
        left: 0,
        top: 0,
        width: 1133,
        height: 965,
        background: '#fff',
        fontFamily: FONT,
        overflow: 'hidden',
      }}
    >
      <Panel
        rows={skyPositions}
        box={{ left: 116, top: 15, w: 417, h: 399 }}
        yw={116}
        xDomain={[358.2431, 358.4573]}
        yDomain={[-2.0274, -1.8279]}
        xMajor={glonMajor}
        xMinor={steps(358.25, 358.45, 0.01)}
        yMajor={glatMajor}
        yMinor={steps(-2.025, -1.83, 0.005)}
        xFmt={fixed(2)}
        yFmt={fixed(3)}
        xLabel="GLON"
        yLabel="GLAT"
        xLabelOffset={9}
        yLabelOffset={17}
      />
      <Panel
        rows={properMotions}
        box={{ left: 633, top: 15, w: 416, h: 399 }}
        yw={100}
        xDomain={[-4.029, 2.07]}
        yDomain={[-5.808, 1.553]}
        xMajor={pmraMajor}
        xMinor={steps(-4, 2, 0.2)}
        yMajor={pmdeMajor}
        yMinor={steps(-5.8, 1.4, 0.2)}
        xFmt={fixed(0)}
        yFmt={fixed(0)}
        xLabel="pmRA [mas/yr]"
        yLabel="pmDE [mas/yr]"
        xLabelOffset={9}
        yLabelOffset={42}
      />
      <Panel
        rows={parallaxMag}
        box={{ left: 116, top: 502, w: 418, h: 396 }}
        yw={116}
        xDomain={[-0.2055, 1.703]}
        yDomain={[8.858, 20.253]}
        reversed
        xMajor={plxMajor}
        xMinor={steps(-0.2, 1.7, 0.1)}
        yMajor={gMajor}
        yMinor={steps(9, 20, 0.5)}
        xFmt={fixed(1)}
        yFmt={fixed(0)}
        xLabel="Plx [mas]"
        yLabel="G"
        xLabelOffset={7}
        yLabelOffset={62}
        vline={PLX_CUT}
      />
      <Panel
        rows={colourMag}
        box={{ left: 633, top: 502, w: 417, h: 396 }}
        yw={100}
        xDomain={[0.296, 6.41]}
        yDomain={[8.858, 20.253]}
        reversed
        xMajor={bprpMajor}
        xMinor={steps(0.4, 6.4, 0.2)}
        yMajor={gMajor}
        yMinor={steps(9, 20, 0.5)}
        xFmt={fixed(0)}
        yFmt={fixed(0)}
        xLabel="BP-RP"
        yLabel="G"
        xLabelOffset={7}
        yLabelOffset={45}
      />
      <ColorBar />
    </div>
  );
}
